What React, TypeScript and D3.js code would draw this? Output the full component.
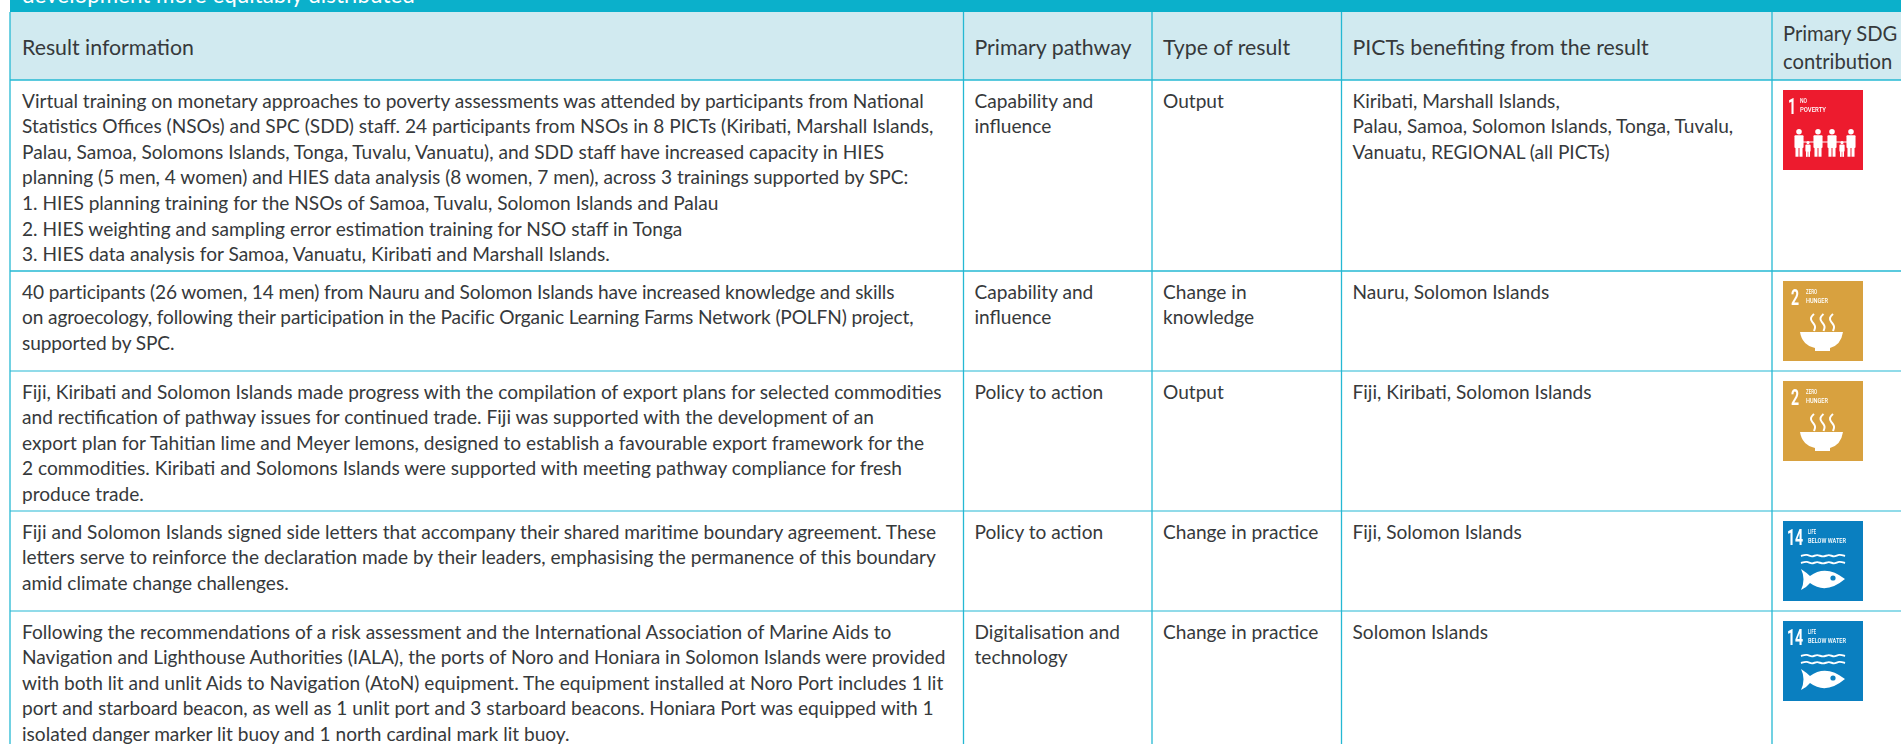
import React from 'react';
import { scaleOrdinal, path as d3path, line, curveBasis } from 'd3';

const width = 1901;
const height = 744;

const columns = ['info', 'pathway', 'type', 'picts', 'sdg'];
const headerLines = [
  ['Result information'],
  ['Primary pathway'],
  ['Type of result'],
  ['PICTs benefiting from the result'],
  ['Primary SDG', 'contribution'],
];
const bannerText = 'development more equitably distributed';

const resultInfo = [
  [
    'Virtual training on monetary approaches to poverty assessments was attended by participants from National',
    'Statistics Offices (NSOs) and SPC (SDD) staff. 24 participants from NSOs in 8 PICTs (Kiribati, Marshall Islands,',
    'Palau, Samoa, Solomons Islands, Tonga, Tuvalu, Vanuatu), and SDD staff have increased capacity in HIES',
    'planning (5 men, 4 women) and HIES data analysis (8 women, 7 men), across 3 trainings supported by SPC:',
    '1. HIES planning training for the NSOs of Samoa, Tuvalu, Solomon Islands and Palau',
    '2. HIES weighting and sampling error estimation training for NSO staff in Tonga',
    '3. HIES data analysis for Samoa, Vanuatu, Kiribati and Marshall Islands.',
  ],
  [
    '40 participants (26 women, 14 men) from Nauru and Solomon Islands have increased knowledge and skills',
    'on agroecology, following their participation in the Pacific Organic Learning Farms Network (POLFN) project,',
    'supported by SPC.',
  ],
  [
    'Fiji, Kiribati and Solomon Islands made progress with the compilation of export plans for selected commodities',
    'and rectification of pathway issues for continued trade. Fiji was supported with the development of an',
    'export plan for Tahitian lime and Meyer lemons, designed to establish a favourable export framework for the',
    '2 commodities. Kiribati and Solomons Islands were supported with meeting pathway compliance for fresh',
    'produce trade.',
  ],
  [
    'Fiji and Solomon Islands signed side letters that accompany their shared maritime boundary agreement. These',
    'letters serve to reinforce the declaration made by their leaders, emphasising the permanence of this boundary',
    'amid climate change challenges.',
  ],
  [
    'Following the recommendations of a risk assessment and the International Association of Marine Aids to',
    'Navigation and Lighthouse Authorities (IALA), the ports of Noro and Honiara in Solomon Islands were provided',
    'with both lit and unlit Aids to Navigation (AtoN) equipment. The equipment installed at Noro Port includes 1 lit',
    'port and starboard beacon, as well as 1 unlit port and 3 starboard beacons. Honiara Port was equipped with 1',
    'isolated danger marker lit buoy and 1 north cardinal mark lit buoy.',
  ],
];
const pathways = [
  ['Capability and', 'influence'],
  ['Capability and', 'influence'],
  ['Policy to action'],
  ['Policy to action'],
  ['Digitalisation and', 'technology'],
];
const resultTypes = [
  ['Output'],
  ['Change in', 'knowledge'],
  ['Output'],
  ['Change in practice'],
  ['Change in practice'],
];
const beneficiaries = [
  ['Kiribati, Marshall Islands,', 'Palau, Samoa, Solomon Islands, Tonga, Tuvalu,', 'Vanuatu, REGIONAL (all PICTs)'],
  ['Nauru, Solomon Islands'],
  ['Fiji, Kiribati, Solomon Islands'],
  ['Fiji, Solomon Islands'],
  ['Solomon Islands'],
];
const sdgGoals = [1, 2, 2, 14, 14];

const rowKeys = resultInfo.map((_, i) => i);
const x = scaleOrdinal<string, number>().domain(columns).range([10, 963.5, 1152, 1341.5, 1772]);
const rowTop = scaleOrdinal<number, number>().domain(rowKeys).range([80, 271, 371, 511, 611]);
const sdgColor = scaleOrdinal<number, string>().domain([1, 2, 14]).range(['#ed1b2e', '#d8a13f', '#0a7fc0']);

const font = 'Lato, sans-serif';
const narrow = 'Roboto, sans-serif';
const ink = '#36393b';
const rule = '#25b8d3';
const lineHeight = 25.6;
const bodySize = 19.1;
const headSize = 21.3;

const Lines = ({ lines, col, y, spacing = 0, size = bodySize, dy = lineHeight }: any) => (
  <text fontFamily={font} fontSize={size} fill={ink} letterSpacing={spacing}>
    {lines.map((s: string, i: number) => (
      <tspan key={i} x={x(col) + (col === 'info' ? 12 : 11)} y={y + i * dy}>{s}</tspan>
    ))}
  </text>
);

// Little people on the "no poverty" tile
const Person = ({ cx, top, s }: { cx: number; top: number; s: number }) => (
  <g fill="#fff">
    <circle cx={cx} cy={top + 2.2 * s} r={2.2 * s} />
    <rect x={cx - 3.6 * s} y={top + 5 * s} width={7.2 * s} height={10 * s} rx={1} />
    <rect x={cx - 2.8 * s} y={top + 14 * s} width={2.4 * s} height={8 * s} />
    <rect x={cx + 0.4 * s} y={top + 14 * s} width={2.4 * s} height={8 * s} />
  </g>
);

const curve = line<[number, number]>().curve(curveBasis);
const wave = (x0: number, y: number) =>
  curve([[x0, y], [x0 + 6, y - 2], [x0 + 11, y + 1.5], [x0 + 16, y - 2], [x0 + 22, y + 1.5], [x0 + 28, y - 2], [x0 + 33, y + 1.5], [x0 + 38, y - 2], [x0 + 44, y]]) || '';
const vapour = (sx: number) =>
  curve([[sx + 1, 33], [sx - 3, 37], [sx - 1, 41], [sx + 3, 45], [sx + 1, 50]]) || '';

const bowl = () => {
  const p = d3path();
  p.moveTo(17, 51);
  p.lineTo(60, 51);
  p.quadraticCurveTo(58, 64, 47, 67);
  p.lineTo(47, 70);
  p.lineTo(32, 70);
  p.lineTo(32, 67);
  p.quadraticCurveTo(19, 64, 17, 51);
  p.closePath();
  return p.toString();
};

const fish = () => {
  const p = d3path();
  p.moveTo(18, 48);
  p.quadraticCurveTo(24, 52, 27, 55);
  p.quadraticCurveTo(43, 43, 62, 58);
  p.quadraticCurveTo(43, 74, 27, 62);
  p.quadraticCurveTo(24, 66, 18, 69);
  p.quadraticCurveTo(23, 58, 18, 48);
  p.closePath();
  return p.toString();
};

const tileText: any = {
  1: { numX: 5, labelX: 17, labels: [['NO', 7], ['POVERTY', 26]] },
  2: { numX: 8, labelX: 23, labels: [['ZERO', 11], ['HUNGER', 22]] },
  14: { numX: 4, labelX: 25, labels: [['LIFE', 8], ['BELOW WATER', 38]] },
};

const SdgTile = ({ goal, tx, ty }: { goal: number; tx: number; ty: number }) => {
  const t = tileText[goal];
  return (
    <g transform={`translate(${tx},${ty})`}>
      <rect width={80} height={80} fill={sdgColor(goal)} />
      <g filter="url(#soft)">
        <text transform={`translate(${t.numX},24) scale(0.64,1)`} fontFamily={narrow} fontWeight={700} fontSize={22} fill="#fff">{goal}</text>
        {t.labels.map(([s, w]: [string, number], i: number) => (
          <text key={s} x={t.labelX} y={13 + i * 9} fontFamily={narrow} fontWeight={500} fontSize={8} fill="#fff"
            textLength={w} lengthAdjust="spacingAndGlyphs">{s}</text>
        ))}
        {goal === 1 && (
          <>
            <line x1={16} x2={68} y1={52} y2={52} stroke="#fff" strokeWidth={1.2} />
            <Person cx={16} top={39} s={1.26} />
            <Person cx={25} top={51} s={0.72} />
            <Person cx={35} top={39} s={1.26} />
            <Person cx={49} top={39} s={1.26} />
            <Person cx={59} top={51} s={0.72} />
            <Person cx={68} top={39} s={1.26} />
          </>
        )}
        {goal === 2 && (
          <>
            {[30, 39.5, 49].map((sx) => (
              <path key={sx} fill="none" stroke="#fff" strokeWidth={2} d={vapour(sx)} />
            ))}
            <path d={bowl()} fill="#fff" />
          </>
        )}
        {goal === 14 && (
          <>
            <path d={wave(18, 35)} fill="none" stroke="#fff" strokeWidth={1.9} />
            <path d={wave(18, 42)} fill="none" stroke="#fff" strokeWidth={1.9} />
            <path d={fish()} fill="#fff" />
            <circle cx={50} cy={57} r={2.6} fill={sdgColor(goal)} />
          </>
        )}
      </g>
    </g>
  );
};

export default function App() {
  return (
    <svg width={width} height={height} viewBox={`0 0 ${width} ${height}`}
      style={{ position: 'absolute', left: 0, top: 0, display: 'block' }}>
      <defs>
        <filter id="soft"><feGaussianBlur stdDeviation="0.4" /></filter>
      </defs>
      <rect width={width} height={height} fill="#fff" />

      {/* banner, cut off by the top of the page */}
      <rect x={x('info')} y={0} width={width - x('info')} height={12} fill="#0bb0cb" />
      <text x={22} y={3} fontFamily={font} fontSize={22.4} fill="#fff">{bannerText}</text>

      {/* header */}
      <rect x={x('info')} y={12} width={width - x('info')} height={68} fill="#d1eaf0" />
      {columns.map((col, i) => (
        <Lines key={col} lines={headerLines[i]} col={col} size={col === 'sdg' ? 20.2 : headSize}
          y={headerLines[i].length > 1 ? 41 : 55} dy={28} />
      ))}

      {/* rows */}
      {rowKeys.map((i) => {
        const base = rowTop(i) + 27.5;
        return (
          <g key={i}>
            <Lines lines={resultInfo[i]} col="info" y={base} spacing={i === 1 ? -0.12 : 0} />
            <Lines lines={pathways[i]} col="pathway" y={base} />
            <Lines lines={resultTypes[i]} col="type" y={base} />
            <Lines lines={beneficiaries[i]} col="picts" y={base} />
            <SdgTile goal={sdgGoals[i]} tx={x('sdg') + 11} ty={rowTop(i) + 10} />
          </g>
        );
      })}

      {/* table rules */}
      {columns.map((col) => (
        <line key={col} x1={x(col)} x2={x(col)} y1={12} y2={height} stroke={rule} strokeWidth={1.3} />
      ))}
      {rowKeys.map((i) => (
        <line key={i} x1={x('info')} x2={width} y1={rowTop(i)} y2={rowTop(i)} stroke={rule} strokeWidth={i < 2 ? 1.6 : 1.2} />
      ))}
    </svg>
  );
}
